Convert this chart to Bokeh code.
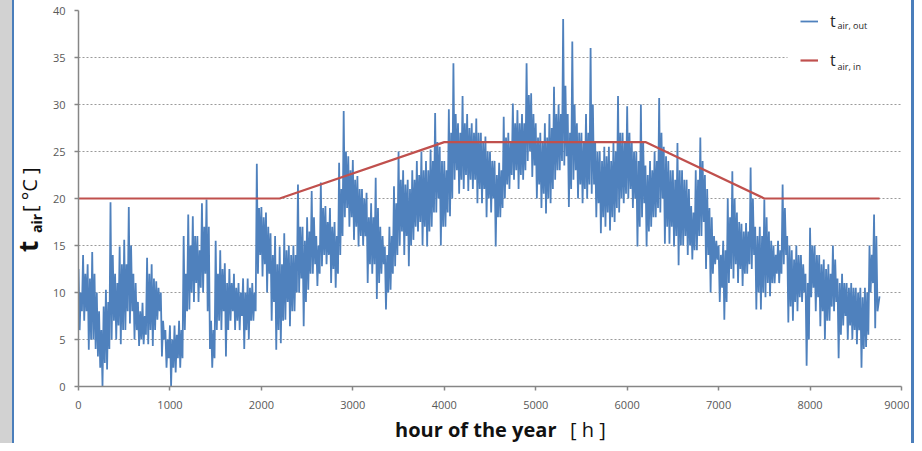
from bokeh.plotting import figure
from bokeh.models import (Range1d, FixedTicker, Legend, LegendItem, Label,
                          BoxAnnotation, ColumnDataSource, Div)
from bokeh.layouts import row, column
from bokeh.embed import file_html
from bokeh.resources import INLINE

# ---------------- data ----------------
# outdoor air temperature, degC: for each 50-hour window two daily swings
# (high, low, second high, second low)
STEP_H = 50
t_out_high = [
    12.5, 14, 13, 14.3, 10, 6, 10.3, 19.6, 12, 14.9,          # 0-450
    15.6, 19.1, 12, 9, 8.9, 13.7, 13, 11.2, 10, 6,            # 500-950
    6.5, 6.5, 7, 16, 18.3, 18.1, 16, 19.5, 19.9, 7,           # 1000-1450
    15.5, 14.5, 13.1, 12.5, 12, 11, 11.5, 11.5, 11, 23.7,     # 1500-1950
    19.1, 18.5, 16.3, 16, 14.9, 16.3, 15, 15, 21.5, 17,       # 2000-2450
    18, 20.8, 16, 21.7, 19.2, 19, 17.5, 23.8, 29.3, 24.5,     # 2500-2950
    24.1, 22.4, 21, 20.6, 19.5, 22.2, 17, 14.9, 17, 21.3,     # 3000-3450
    25, 23, 22, 23, 24, 25, 24, 25.2, 29.1, 25.5,             # 3500-3950
    24, 29.5, 34.4, 28, 30.9, 29, 28, 28.5, 27, 26.6,         # 4000-4450
    25, 24, 23.8, 28.7, 27, 30.1, 29.4, 29, 34.4, 31.2,       # 4500-4950
    28, 27, 28, 29, 31.9, 30, 39.1, 29, 36.7, 28,             # 5000-5450
    27, 29, 36, 26, 25, 25.5, 25.5, 26, 30.9, 27,             # 5500-5950
    29.8, 26, 25, 30, 23.5, 24, 25, 30.7, 25.5, 24,           # 6000-6450
    23, 25.9, 23, 22, 19.2, 23, 26.5, 22.5, 19, 16,           # 6500-6950
    15, 15.5, 20, 22.9, 18.5, 17.3, 17.4, 23.3, 17, 17,       # 7000-7450
    19.9, 16.5, 15, 15.5, 21.5, 16, 14.5, 15, 14, 12,         # 7500-7950
    16.9, 15, 14, 13.5, 13, 15, 11.5, 12, 11, 11,             # 8000-8450
    10.5, 10.5, 10.5, 15, 18.3,                               # 8500-8700
]
t_out_low = [
    6, 7, 3.9, 5, 3.2, 0, 1.8, 5, 5, 4.5,
    6, 6.7, 5, 4.3, 4.5, 4.5, 4.3, 7.1, 3.2, 2,
    0, 1.5, 2, 6, 8.2, 9, 9, 10, 8, 2,
    6, 6, 3.2, 7, 6, 6, 4, 5, 7, 12,
    11.7, 10, 7, 3.9, 4.6, 7.1, 6.4, 8, 10, 6.4,
    10.3, 12, 10.7, 12.8, 13, 11, 10.5, 14, 18, 17,
    15.6, 14.9, 15, 11, 12, 9.3, 12, 8.2, 10.3, 12.8,
    15, 14, 12.8, 15.6, 16.5, 15, 14.9, 17, 18.5, 15,
    17, 18.1, 22, 20.5, 21, 20.8, 21, 19.5, 19.5, 18,
    18.5, 14.9, 18, 20, 21, 22, 21, 22, 24, 22.3,
    20, 19, 18.4, 19.5, 22, 23, 23.5, 19.1, 22, 20,
    19.5, 20, 20.5, 18, 16.3, 17, 16.6, 17.5, 18.5, 19.5,
    20, 19, 14.9, 18, 14.9, 17, 18, 18.5, 15.2, 15.2,
    14.9, 12.9, 15, 14, 13.5, 14.5, 16, 12.5, 10, 13,
    9, 7.1, 11, 11.5, 11, 10.7, 12, 12.5, 8.2, 8.2,
    9.5, 9.6, 11, 11, 13, 6.8, 7, 8, 9, 2.2,
    9.5, 8, 6.4, 5, 7, 8, 3, 6.5, 5, 5,
    4.5, 2, 4.2, 10, 6.2,
]
t_out_high2 = [
    10, 12, 11.5, 12, 8, 8.5, 9, 14, 11, 13,
    13, 15, 11, 8, 7.5, 12, 11.5, 10.5, 7, 5,
    5, 5.5, 6, 12, 15, 16, 14.5, 17, 17, 6,
    12, 12.5, 11, 11, 10.5, 10, 10, 10.5, 10, 19,
    18, 17, 14, 13, 13, 14.5, 14, 14, 17, 15.5,
    16.5, 18, 15, 19, 17.5, 17, 16, 21, 25, 23,
    22, 21, 20, 18, 18, 19, 16, 14, 16, 19.5,
    22, 21.5, 21, 22, 22.5, 23, 23, 24, 26, 24,
    23, 27, 29, 27, 28, 27.5, 27, 27, 26, 25,
    24, 22.5, 23, 26.5, 26, 28, 28, 28, 31, 29,
    26.5, 26, 26.5, 27.5, 29, 29, 32, 27, 30, 27,
    26, 27, 30, 25, 24, 24.5, 24, 25, 27, 26,
    27, 25, 24, 26, 22.5, 23, 24, 27, 24.5, 23,
    22, 23, 22, 21, 18.5, 22, 24, 21, 18, 15.5,
    14, 14.5, 18, 20, 17.5, 16.5, 16.5, 20, 16, 16,
    18, 15.5, 14, 14.5, 19, 15, 13.5, 14, 13, 11,
    15, 14, 13, 12.5, 12, 13.5, 11, 11, 10.5, 10.5,
    10, 9.5, 10, 14, 16,
]
t_out_low2 = [
    8, 8, 5, 4, 2, 2.5, 4, 7, 6.5, 6,
    8, 8, 6, 5, 5.5, 6, 6, 8, 5, 3,
    2, 3, 3, 8, 10, 11, 10.5, 12, 4, 3,
    7, 8, 6, 8, 7, 7.5, 6, 7, 8, 14,
    13, 12, 9, 6, 7, 9, 8, 10, 11.5, 9,
    12, 13, 12, 14, 14, 12.5, 12, 16, 19, 18,
    17, 16, 16, 13, 13, 11, 13, 10, 12, 14,
    16.5, 16, 15, 17, 17.5, 17, 16.5, 18.5, 20, 17,
    18.5, 20, 23, 22, 22.5, 22, 22, 21, 21, 20,
    20, 18, 19, 21.5, 22.5, 23, 22.5, 23, 25, 23.5,
    21.5, 20.5, 20, 21, 23, 24, 24.5, 21, 23, 21.5,
    21, 21.5, 21.5, 19.5, 18, 18.5, 18, 19, 20, 20.5,
    21, 20, 17, 19.5, 16.5, 18, 19, 20, 17, 17,
    16, 15, 16, 15, 14.5, 16, 17.5, 14, 12, 13.5,
    10.5, 9, 12.5, 13, 12.5, 12, 13, 14, 10, 10,
    11, 11, 12, 12, 14, 8.5, 9, 9.5, 10, 5,
    10.5, 9.5, 8, 7, 8.5, 9, 5.5, 7.5, 6.5, 6,
    6, 4, 5.5, 11, 8,
]
last_hour = 8760
t_out_last = 9.6

# indoor air temperature set-point (piecewise linear)
hours_in = [0, 2200, 4000, 6200, 7500, 8760]
t_in = [20, 20, 26, 26, 20, 20]

x_ticks = [0, 1000, 2000, 3000, 4000, 5000, 6000, 7000, 8000, 9000]
y_ticks = [0, 5, 10, 15, 20, 25, 30, 35, 40]

# ---------------- build series ----------------
hours_out, temps_out = [], []
q = STEP_H / 4
for i, vals in enumerate(zip(t_out_high, t_out_low, t_out_high2, t_out_low2)):
    for k, v in enumerate(vals):
        hours_out.append(i * STEP_H + k * q)
        temps_out.append(v)
hours_out.append(last_hour)
temps_out.append(t_out_last)

src_out = ColumnDataSource(dict(x=hours_out, y=temps_out))
src_in = ColumnDataSource(dict(x=hours_in, y=t_in))

BLUE = "#4F81BD"
RED = "#C0504D"
BORDER = "#4a7ebb"
STRIP = "#d2d2d2"
FONT = "Open Sans"
TXT = "#111111"

LEFT_W, RIGHT_W, PLOT_W, PLOT_H, BOTTOM_H = 45, 5, 864, 415, 28
TOTAL_W = LEFT_W + PLOT_W + RIGHT_W

p = figure(width=PLOT_W, height=PLOT_H, x_range=Range1d(0, 9000), y_range=Range1d(0, 40),
           output_backend="svg", toolbar_location=None,
           min_border_left=33, min_border_right=8, min_border_top=10, min_border_bottom=29)
p.outline_line_color = None
p.background_fill_color = "white"
p.border_fill_color = "white"

r_out = p.line("x", "y", source=src_out, line_color=BLUE, line_width=1.8)
r_in = p.line("x", "y", source=src_in, line_color=RED, line_width=2.2)

p.xgrid.visible = False
p.ygrid.grid_line_color = "#9a9a9a"
p.ygrid.grid_line_dash = "2 2"
p.ygrid.grid_line_width = 1
p.ygrid.ticker = FixedTicker(ticks=y_ticks)

for ax, ticks in ((p.xaxis[0], x_ticks), (p.yaxis[0], y_ticks)):
    ax.ticker = FixedTicker(ticks=ticks)
    ax.axis_line_color = "#868686"
    ax.axis_line_width = 1.5
    ax.major_tick_line_color = "#868686"
    ax.major_tick_line_width = 1.5
    ax.major_tick_out = 4
    ax.major_tick_in = 0
    ax.minor_tick_line_color = None
    ax.major_label_text_font = FONT
    ax.major_label_text_font_size = "11px"
    ax.major_label_text_color = "#595959"
p.xaxis.major_label_standoff = 10
p.yaxis.major_label_standoff = 9

# white area behind the legend (hides the top grid lines there)
p.add_layout(BoxAnnotation(left=709, left_units="screen", bottom=291, bottom_units="screen",
                           fill_color="white", fill_alpha=1, line_color=None))

# legend
legend = Legend(items=[LegendItem(label="t", renderers=[r_out]),
                       LegendItem(label="t", renderers=[r_in])],
                location=(722, 315), orientation="vertical",
                glyph_width=18, glyph_height=20, label_height=20,
                spacing=17, padding=16, margin=0, label_standoff=12,
                border_line_color=None, background_fill_alpha=0,
                label_text_font=FONT, label_text_font_size="16px",
                label_text_color="#262626")
p.add_layout(legend)

for txt, yy in (("air, out", 361), ("air, in", 320)):
    p.add_layout(Label(x=759, y=yy, x_units="screen", y_units="screen", text=txt,
                       text_font=FONT, text_font_size="9px", text_color="#262626",
                       text_baseline="alphabetic", text_align="left"))

# ---------------- titles and frame decoration as HTML ----------------
def strip_html(h):
    return (f'<div style="position:absolute;left:0;top:0;width:12px;height:{h}px;background:{STRIP};"></div>'
            f'<div style="position:absolute;left:12px;top:0;width:2px;height:{h}px;background:{BORDER};"></div>')

def rot_span(text, left, top, size, weight):
    return (f'<div style="position:absolute;left:{left}px;top:{top}px;transform:rotate(-90deg);'
            f'transform-origin:0 0;white-space:nowrap;font-family:\'{FONT}\';font-size:{size}px;'
            f'font-weight:{weight};line-height:1;color:{TXT};">{text}</div>')

left_html = (f'<div style="position:relative;width:{LEFT_W}px;height:{PLOT_H}px;overflow:hidden;">'
             + strip_html(PLOT_H)
             + rot_span("t", 15, 252, 26, "bold")
             + rot_span("air", 30, 233, 14, "bold")
             + rot_span("[ °C ]", 20, 212, 20, "normal")
             + '</div>')

def flat_span(text, left, top, size, weight):
    return (f'<div style="position:absolute;left:{left}px;top:{top}px;white-space:nowrap;'
            f'font-family:\'{FONT}\';font-size:{size}px;font-weight:{weight};line-height:1;'
            f'color:{TXT};">{text}</div>')

bottom_html = (f'<div style="position:relative;width:{TOTAL_W}px;height:{BOTTOM_H}px;overflow:hidden;">'
               + strip_html(BOTTOM_H)
               + f'<div style="position:absolute;left:{TOTAL_W - 3}px;top:0;width:3px;height:{BOTTOM_H}px;background:{BORDER};"></div>'
               + flat_span("hour of the year", 395, 5, 20, "bold")
               + flat_span("[ h ]", 570, 5, 20, "normal")
               + '</div>')

right_html = (f'<div style="position:relative;width:{RIGHT_W}px;height:{PLOT_H}px;">'
              f'<div style="position:absolute;left:{RIGHT_W - 3}px;top:0;width:3px;height:{PLOT_H}px;background:{BORDER};"></div>'
              '</div>')

left_div = Div(text=left_html, width=LEFT_W, height=PLOT_H, margin=(0, 0, 0, 0))
right_div = Div(text=right_html, width=RIGHT_W, height=PLOT_H, margin=(0, 0, 0, 0))
bottom_div = Div(text=bottom_html, width=TOTAL_W, height=BOTTOM_H, margin=(0, 0, 0, 0))

layout = column(row(left_div, p, right_div, spacing=0), bottom_div, spacing=0)

open("out.html", "w").write(file_html(layout, INLINE))
